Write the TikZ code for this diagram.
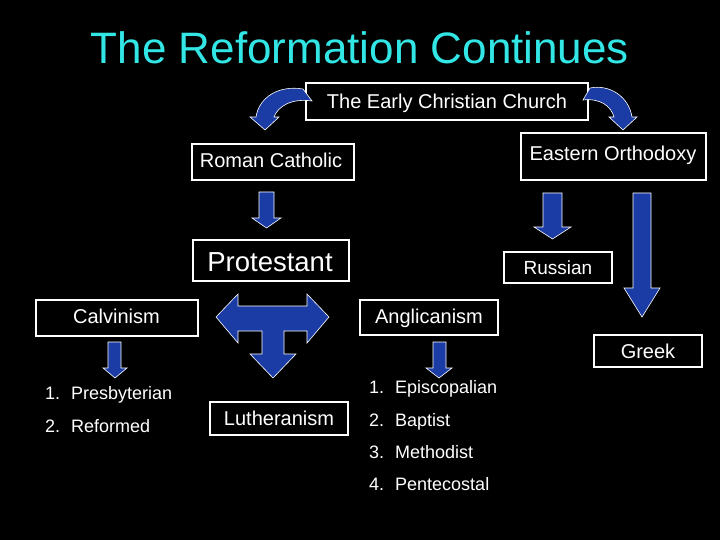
\documentclass[tikz,border=0pt]{standalone}
\usepackage{fontspec}
\setmainfont{Liberation Sans}
\definecolor{arrowblue}{RGB}{28,60,165}
\definecolor{titlecyan}{RGB}{51,230,230}
\newcommand{\blockdown}[7]{%
  \draw[blockarrow] (#1,#3) -- (#2,#3) -- (#2,#6) -- (#5,#6) -- ({(#4+#5)/2},#7) -- (#4,#6) -- (#1,#6) -- cycle;}
\begin{document}
\begin{tikzpicture}[x=1pt,y=-1pt,
  blockarrow/.style={fill=arrowblue,draw=white,line width=0.6pt,line join=miter},
  box/.style={draw=white,line width=1.5pt,fill=black,text=white,inner sep=0pt,
    text height=14.3pt,text depth=0pt,font=\fontsize{20}{24}\selectfont},
  lbl/.style={text=white,inner sep=0pt,text height=14.3pt,text depth=0pt,font=\fontsize{20}{24}\selectfont},
  item/.style={text=white,inner sep=0pt,anchor=west,text height=12.9pt,text depth=0pt,
    font=\fontsize{18}{22}\selectfont}]
\fill[black] (0,0) rectangle (720,540);
\useasboundingbox (0,0) rectangle (720,540);

% title
\node[text=titlecyan,font=\fontsize{44}{50}\selectfont,inner sep=0pt,text height=31.5pt,text depth=0pt] (title) at (360,48) {The Reformation Continues};

% boxes
\node[box,minimum width=282pt,minimum height=37pt] (early) at (447,101.5) {The Early Christian Church};
\node[box,minimum width=162pt,minimum height=36pt] (roman) at (273,162) {};
\node[lbl] (romantext) at (271,160) {Roman Catholic};
\node[box,minimum width=185pt,minimum height=47pt] (eastern) at (613.5,156.5) {};
\node[lbl] (easterntext) at (613,153) {Eastern Orthodoxy};
\node[box,minimum width=156pt,minimum height=41pt,font=\fontsize{27.5}{32}\selectfont,text height=19.7pt] (prot) at (271,260.5) {};
\node[lbl,font=\fontsize{27.5}{32}\selectfont,text height=19.7pt] (prottext) at (270,262) {Protestant};
\node[box,minimum width=108pt,minimum height=31pt,font=\fontsize{19}{23}\selectfont,text height=13.6pt] (russian) at (558,267.5) {Russian};
\node[box,minimum width=162pt,minimum height=36pt] (calvin) at (117,318) {};
\node[lbl] (calvintext) at (116.5,316) {Calvinism};
\node[box,minimum width=138pt,minimum height=35pt] (angli) at (429,317.5) {};
\node[lbl] (anglitext) at (429,316) {Anglicanism};
\node[box,minimum width=108pt,minimum height=32pt] (greek) at (648,351) {Greek};
\node[box,minimum width=138pt,minimum height=33pt] (luther) at (279,418.5) {};
\node[lbl] (luthertext) at (279,418) {Lutheranism};

% lists
\node[item] (p1) at (45,393) {\makebox[26pt][l]{1.}Presbyterian};
\node[item] (p2) at (45,426) {\makebox[26pt][l]{2.}Reformed};
\node[item] (a1) at (369,387) {\makebox[26pt][l]{1.}Episcopalian};
\node[item] (a2) at (369,420) {\makebox[26pt][l]{2.}Baptist};
\node[item] (a3) at (369,452) {\makebox[26pt][l]{3.}Methodist};
\node[item] (a4) at (369,484) {\makebox[26pt][l]{4.}Pentecostal};

% curved arrows
\draw[blockarrow] (256,117) .. controls (259,97) and (279,85) .. (303,89)
  -- (312,101) .. controls (292,98) and (278,106) .. (274,117)
  -- (279,117) -- (265,130) -- (250,117) -- cycle;
\draw[blockarrow] (632,117) .. controls (629,97) and (610,84) .. (590,88)
  -- (583,100) .. controls (600,98) and (611,106) .. (614,117)
  -- (609,117) -- (623,130) -- (637,117) -- cycle;

% straight down arrows
\blockdown{259}{274}{192}{252}{281}{218}{228}
\blockdown{543}{562}{193}{534}{571}{227}{239}
\blockdown{633}{651}{193}{624}{660}{288}{317}
\blockdown{108}{121}{342}{103}{127}{368}{378}
\blockdown{433}{446}{342}{426}{452}{368}{378}

% T arrow
\draw[blockarrow] (216,317) -- (238,294) -- (238,306) -- (307,306) -- (307,294) -- (329,317)
  -- (307,343) -- (307,331) -- (284,331) -- (284,354) -- (296,354) -- (273,378)
  -- (250,354) -- (262,354) -- (262,331) -- (238,331) -- (238,343) -- cycle;
\end{tikzpicture}
\end{document}
